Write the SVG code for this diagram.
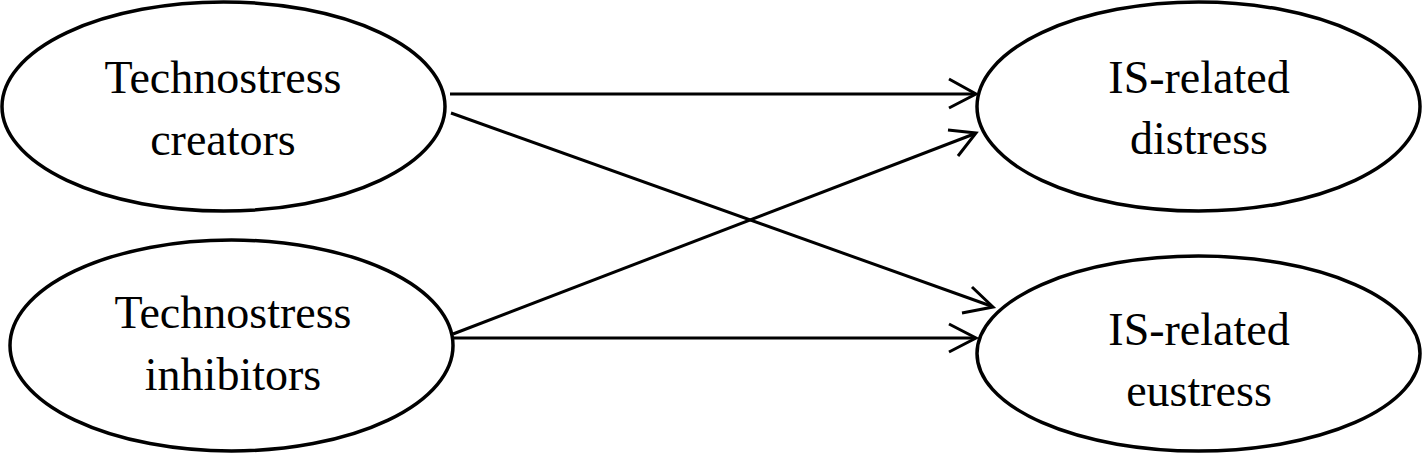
<svg xmlns="http://www.w3.org/2000/svg" width="1425" height="454" viewBox="0 0 1425 454">
<style>
.node ellipse{fill:#fff;stroke:#000;stroke-width:3.5}
.node text{font-family:"Liberation Serif","Times New Roman",serif;font-size:46px;fill:#000;text-anchor:middle}
.conn line{stroke:#000;stroke-width:3}
.conn polyline{fill:none;stroke:#000;stroke-width:3}
</style>
<rect width="1425" height="454" fill="#fff"/>
<g id="n-creators" class="node">
<ellipse cx="223.5" cy="106.5" rx="221.5" ry="104.5"/>
<text x="223" y="93">Technostress</text>
<text x="223" y="155">creators</text>
</g>
<g id="n-inhibitors" class="node">
<ellipse cx="231.5" cy="345.5" rx="221.5" ry="105.5"/>
<text x="233" y="328">Technostress</text>
<text x="233" y="390">inhibitors</text>
</g>
<g id="n-distress" class="node">
<ellipse cx="1198.5" cy="106.5" rx="221.5" ry="104.5"/>
<text x="1199" y="93">IS-related</text>
<text x="1199" y="154">distress</text>
</g>
<g id="n-eustress" class="node">
<ellipse cx="1198.5" cy="353.5" rx="221.5" ry="97.5"/>
<text x="1199" y="345">IS-related</text>
<text x="1199" y="406">eustress</text>
</g>
<g id="connectors" class="conn">
<line x1="450" y1="94" x2="975" y2="94"/>
<polyline points="949,79 976,94 949,108"/>
<line x1="451" y1="113" x2="991" y2="306"/>
<polyline points="972,287 993,307 962,313"/>
<line x1="453" y1="334" x2="974" y2="134"/>
<polyline points="948,130 976,133 958,156"/>
<line x1="453" y1="338" x2="975" y2="338"/>
<polyline points="949,324 976,338 949,352"/>
</g>
</svg>
